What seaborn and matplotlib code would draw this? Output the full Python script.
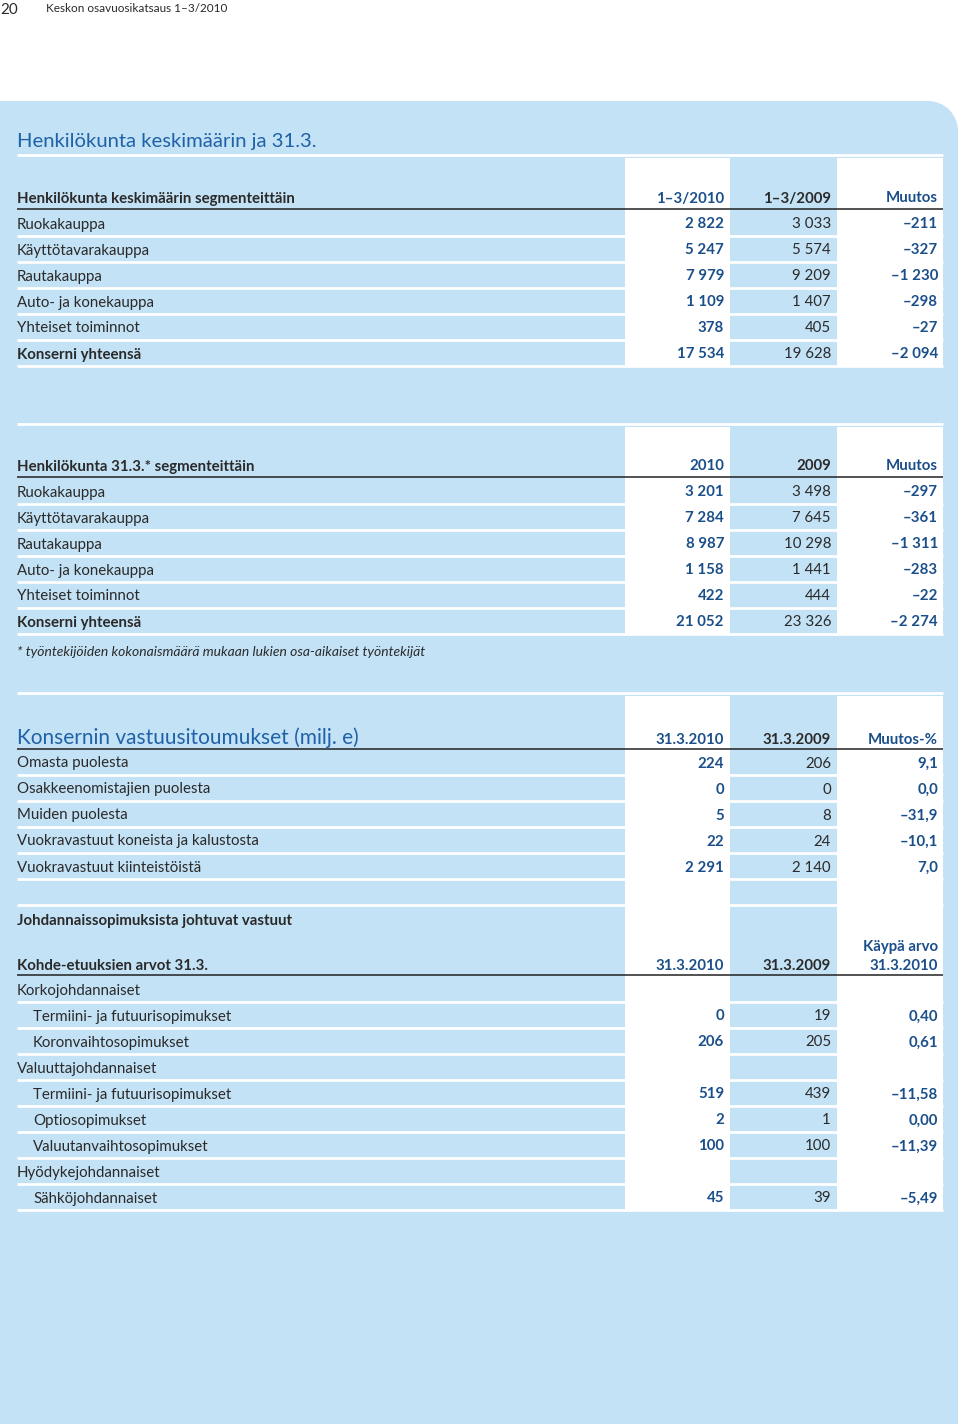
import numpy as np
import seaborn as sns
import matplotlib.pyplot as plt
from matplotlib.patches import Rectangle, Circle

# --- data ---
seg_labels = ['Ruokakauppa', 'Käyttötavarakauppa', 'Rautakauppa',
              'Auto- ja konekauppa', 'Yhteiset toiminnot', 'Konserni yhteensä']
avg_2010 = [2822, 5247, 7979, 1109, 378, 17534]
avg_2009 = [3033, 5574, 9209, 1407, 405, 19628]
avg_chg = [-211, -327, -1230, -298, -27, -2094]
end_2010 = [3201, 7284, 8987, 1158, 422, 21052]
end_2009 = [3498, 7645, 10298, 1441, 444, 23326]
end_chg = [-297, -361, -1311, -283, -22, -2274]

comm_labels = ['Omasta puolesta', 'Osakkeenomistajien puolesta', 'Muiden puolesta',
               'Vuokravastuut koneista ja kalustosta', 'Vuokravastuut kiinteistöistä']
comm_2010 = [224, 0, 5, 22, 2291]
comm_2009 = [206, 0, 8, 24, 2140]
comm_pct = [9.1, 0.0, -31.9, -10.1, 7.0]

deriv_labels = ['Korkojohdannaiset', 'Termiini- ja futuurisopimukset', 'Koronvaihtosopimukset',
                'Valuuttajohdannaiset', 'Termiini- ja futuurisopimukset', 'Optiosopimukset',
                'Valuutanvaihtosopimukset', 'Hyödykejohdannaiset', 'Sähköjohdannaiset']
deriv_indent = [0, 1, 1, 0, 1, 1, 1, 0, 1]
deriv_2010 = [None, 0, 206, None, 519, 2, 100, None, 45]
deriv_2009 = [None, 19, 205, None, 439, 1, 100, None, 39]
deriv_fair = [None, 0.40, 0.61, None, -11.58, 0.00, -11.39, None, -5.49]

BLUE_BG = '#c4e2f5'
NAVY = '#1b4f8a'
TITLE = '#1f62a8'
DARK = '#2a2a2a'
FS = 10.8


def fmt_int(v):
    if v is None:
        return ''
    s = f'{abs(v):,}'.replace(',', ' ')
    return ('–' if v < 0 else '') + s


def fmt_dec(v, d):
    if v is None:
        return ''
    s = f'{abs(v):.{d}f}'.replace('.', ',')
    return ('–' if v < 0 else '') + s


sns.set_theme(style='white')
plt.rcParams['font.family'] = ['Lato', 'DejaVu Sans']

fig = plt.figure(figsize=(9.6, 14.28), dpi=100)
ax = fig.add_axes([0, 0, 1, 1])
ax.set_xlim(0, 960)
ax.set_ylim(1428, 0)
ax.axis('off')

# page header
ax.text(0, 8, '20', fontsize=11, color=DARK, va='center_baseline')
ax.text(46, 8, 'Keskon osavuosikatsaus 1–3/2010', fontsize=8.5, color=DARK, va='center_baseline')

# blue panel with rounded top-right corner
r = 30
ax.add_patch(Rectangle((0, 101), 958 - r, 1323, color=BLUE_BG, lw=0))
ax.add_patch(Rectangle((0, 101 + r), 958, 1323 - r, color=BLUE_BG, lw=0))
ax.add_patch(Circle((958 - r, 101 + r), r, color=BLUE_BG, lw=0))

X0, X1 = 17, 943
COLS = [(625, 730), (730, 837), (837, 943)]
RIGHT = [724, 831, 938]


def white_cols(top, bottom):
    for (a, b), w in zip(COLS, [True, False, True]):
        if w:
            ax.add_patch(Rectangle((a, top), b - a, bottom - top, color='white', lw=0))


def sep(y):
    ax.hlines(y, X0, X1, color='white', lw=2)


def rule(y):
    ax.hlines(y, X0, X1, color='#222222', lw=1.1)


def num_row(y, label, vals, bold_label=False, indent=0):
    ax.text(X0 + 16 * indent, y, label, fontsize=FS, color=DARK,
            fontweight='bold' if bold_label else 'normal', va='center_baseline')
    styles = [(NAVY, 'bold'), (DARK, 'normal'), (NAVY, 'bold')]
    for v, xr, (c, w) in zip(vals, RIGHT, styles):
        ax.text(xr, y, v, fontsize=FS, color=c, fontweight=w, ha='right', va='center_baseline')


def col_heads(y, heads):
    styles = [NAVY, DARK, NAVY]
    for h, xr, c in zip(heads, RIGHT, styles):
        ax.text(xr, y, h, fontsize=FS, color=c, fontweight='bold', ha='right', va='center_baseline')


def staff_table(top, header_y, label, heads, v1, v2, v3):
    sep(top - 3)
    white_cols(top, header_y + 12 + 26 * len(seg_labels) + 1)
    ax.text(X0, header_y, label, fontsize=FS, color=DARK, fontweight='bold', va='center_baseline')
    col_heads(header_y, heads)
    rule(header_y + 12)
    for i, lab in enumerate(seg_labels):
        y = header_y + 26 * (i + 1)
        num_row(y, lab, [fmt_int(v1[i]), fmt_int(v2[i]), fmt_int(v3[i])],
                bold_label=(i == len(seg_labels) - 1))
        sep(y + 13)


# --- section 1 ---
ax.text(X0, 140, 'Henkilökunta keskimäärin ja 31.3.', fontsize=14.6, color=TITLE, va='center_baseline')
staff_table(158, 197, 'Henkilökunta keskimäärin segmenteittäin',
            ['1–3/2010', '1–3/2009', 'Muutos'], avg_2010, avg_2009, avg_chg)

# --- section 2 ---
staff_table(427, 465, 'Henkilökunta 31.3.* segmenteittäin',
            ['2010', '2009', 'Muutos'], end_2010, end_2009, end_chg)
ax.text(X0, 651, '* työntekijöiden kokonaismäärä mukaan lukien osa-aikaiset työntekijät',
        fontsize=10, color=DARK, style='italic', va='center_baseline')

# --- section 3 ---
sep(693)
white_cols(696, 1211)
ax.text(X0, 736, 'Konsernin vastuusitoumukset (milj. e)', fontsize=15, color=TITLE, va='center_baseline')
col_heads(738, ['31.3.2010', '31.3.2009', 'Muutos-%'])
rule(749)
for i, lab in enumerate(comm_labels):
    y = 762 + 26 * i
    num_row(y, lab, [fmt_int(comm_2010[i]), fmt_int(comm_2009[i]), fmt_dec(comm_pct[i], 1)])
    sep(y + 13)
sep(905)
ax.text(X0, 920, 'Johdannaissopimuksista johtuvat vastuut', fontsize=FS, color=DARK,
        fontweight='bold', va='center_baseline')
ax.text(X0, 964, 'Kohde-etuuksien arvot 31.3.', fontsize=FS, color=DARK,
        fontweight='bold', va='center_baseline')
col_heads(964, ['31.3.2010', '31.3.2009', '31.3.2010'])
ax.text(RIGHT[2], 945, 'Käypä arvo', fontsize=FS, color=NAVY, fontweight='bold',
        ha='right', va='center_baseline')
rule(975)
for i, lab in enumerate(deriv_labels):
    y = 989 + 26 * i
    num_row(y, lab, [fmt_int(deriv_2010[i]), fmt_int(deriv_2009[i]), fmt_dec(deriv_fair[i], 2)],
            indent=deriv_indent[i])
    sep(y + 13)

fig.savefig('out.png', dpi=100, facecolor='white')
